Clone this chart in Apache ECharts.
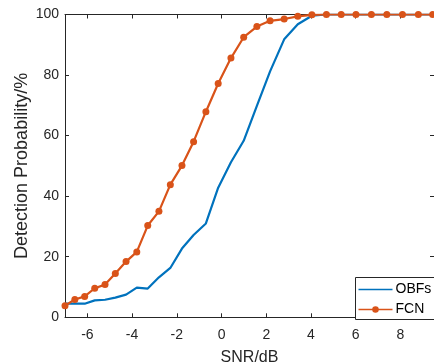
<!DOCTYPE html>
<html><head><meta charset="utf-8">
<script src="https://cdn.jsdelivr.net/npm/echarts@6/dist/echarts.min.js"></script>
<style>html,body{margin:0;padding:0;background:#fff}#c{width:434px;height:364px}</style>
</head><body><div id="c"></div>
<script>
var snr = [-7, -6.56, -6.12, -5.67, -5.21, -4.75, -4.27, -3.79, -3.30, -2.80, -2.29, -1.77, -1.25, -0.70, -0.15, 0.42, 0.99, 1.58, 2.17, 2.80, 3.41, 4.04, 4.69, 5.35, 6.01, 6.70, 7.39, 8.09, 8.80, 9.44];
var obfs = [4.5, 4.5, 4.5, 5.6, 5.8, 6.5, 7.5, 9.8, 9.5, 13.2, 16.3, 22.7, 27.2, 31.0, 42.8, 51.2, 58.3, 69.8, 81.2, 91.8, 96.8, 99.6, 100, 100, 100, 100, 100, 100, 100, 100];
var fcn = [3.8, 5.9, 6.9, 9.6, 10.8, 14.5, 18.4, 21.6, 30.3, 35.0, 43.8, 50.1, 58.0, 67.9, 77.2, 85.6, 92.5, 96.0, 97.9, 98.5, 99.4, 99.9, 100, 100, 100, 100, 100, 100, 100, 100];
var xTicks = [-6, -4, -2, 0, 2, 4, 6, 8];
var yTicks = [0, 20, 40, 60, 80, 100];
var seriesNames = ['OBFs', 'FCN'];

function pairs(xs, ys){ return xs.map(function(x,i){ return [x, ys[i]]; }); }
var txt = '#262626';
var ff = 'Liberation Sans, Arial, sans-serif';
var chart = echarts.init(document.getElementById('c'), null, {renderer:'canvas'});
var axisLineStyle = {color:'#262626', width:1};
chart.setOption({
  animation:false,
  backgroundColor:'#fff',
  grid:{left:65, top:14.5, right:0, bottom:46.7, containLabel:false, outerBoundsMode:'none'},
  xAxis:[{
    type:'value', min:-7, max:9.5, interval:2,
    axisLine:{show:true, onZero:false, lineStyle:axisLineStyle},
    axisTick:{show:true, inside:true, length:4, lineStyle:axisLineStyle, customValues:xTicks},
    axisLabel:{color:txt, fontSize:14, fontFamily:ff, margin:11, customValues:xTicks},
    splitLine:{show:false},
    name:'SNR/dB', nameLocation:'middle', nameGap:32, nameMoveOverlap:false,
    nameTextStyle:{color:txt, fontSize:16, fontFamily:ff}
  },{
    type:'value', position:'top', min:-7, max:9.5,
    axisLine:{show:true, onZero:false, lineStyle:axisLineStyle},
    axisTick:{show:true, inside:true, length:4, lineStyle:axisLineStyle, customValues:xTicks},
    axisLabel:{show:false}, splitLine:{show:false}
  }],
  yAxis:[{
    type:'value', min:0, max:100, interval:20,
    axisLine:{show:true, onZero:false, lineStyle:axisLineStyle},
    axisTick:{show:true, inside:true, length:4, lineStyle:axisLineStyle},
    axisLabel:{color:txt, fontSize:14, fontFamily:ff, margin:6},
    splitLine:{show:false},
    name:'Detection Probability/%', nameLocation:'middle', nameGap:34, nameMoveOverlap:false,
    nameTextStyle:{color:txt, fontSize:18, fontFamily:ff}
  },{
    type:'value', position:'right', min:0, max:100, interval:20,
    axisLine:{show:true, onZero:false, lineStyle:axisLineStyle},
    axisTick:{show:true, inside:true, length:4, lineStyle:axisLineStyle},
    axisLabel:{show:false}, splitLine:{show:false}
  }],
  legend:{
    orient:'vertical', left:355.5, top:277.5,
    data:[
      {name:seriesNames[0], icon:'path://M0,0 M0,5.2 L34,5.2 L34,6.8 L0,6.8 Z M34,12'},
      {name:seriesNames[1], icon:'path://M0,0 M0,5.2 L34,5.2 L34,6.8 L0,6.8 Z M17,2.7 A3.3,3.3 0 1,1 17,9.3 A3.3,3.3 0 1,1 17,2.7 Z M34,12'}
    ],
    itemWidth:34, itemHeight:12, itemGap:6,
    padding:[5, 40, 3, 3],
    borderColor:'#262626', borderWidth:1, backgroundColor:'#fff', borderRadius:0,
    textStyle:{color:'#000', fontSize:14, fontFamily:ff, padding:[0,0,0,-2]}
  },
  series:[{
    name:seriesNames[0], type:'line', data:pairs(snr, obfs),
    symbol:'none', lineStyle:{color:'#0072BD', width:2.2}, itemStyle:{color:'#0072BD'}, z:2
  },{
    name:seriesNames[1], type:'line', data:pairs(snr, fcn),
    symbol:'circle', symbolSize:7, lineStyle:{color:'#D95319', width:2.2}, itemStyle:{color:'#D95319'}, z:3
  }]
});
</script></body></html>
